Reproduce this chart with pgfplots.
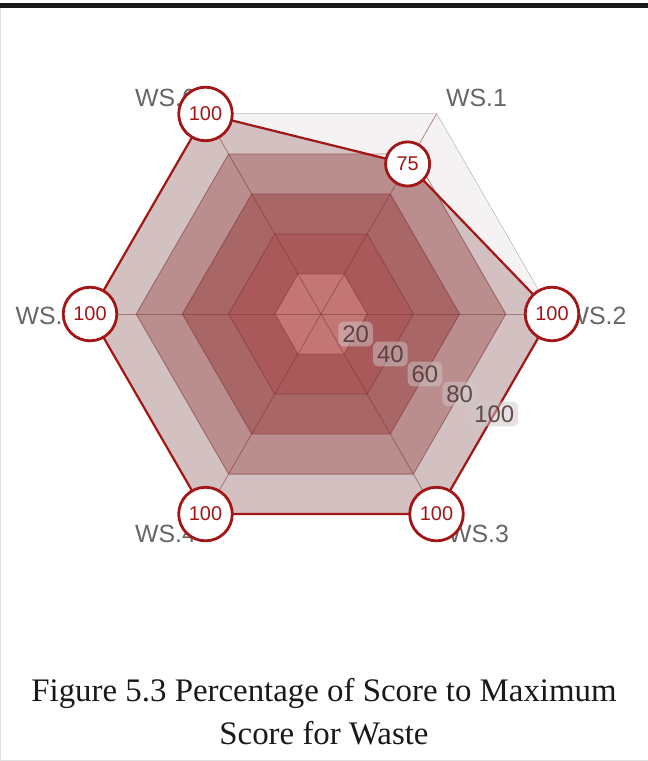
\documentclass[border=0pt]{standalone}
\usepackage{fontspec}
\setmainfont{Liberation Serif}
\newfontfamily\lsans{Liberation Sans}
\usepackage{pgfplots}
\pgfplotsset{compat=1.18}
\usepgfplotslibrary{polar}
\definecolor{outergrey}{HTML}{F4F2F2}
\definecolor{bandA}{HTML}{D3C1C2}
\definecolor{bandB}{HTML}{BA8D8F}
\definecolor{bandC}{HTML}{A86667}
\definecolor{bandD}{HTML}{A95959}
\definecolor{bandE}{HTML}{C47676}
\definecolor{gridline}{HTML}{7E3434}
\definecolor{markred}{HTML}{A31616}
\definecolor{labgrey}{HTML}{666666}
\definecolor{ticktext}{HTML}{4E3434}
\definecolor{tickbox}{HTML}{CFC7C7}
\begin{document}
\begin{tikzpicture}[x=1bp,y=1bp]
\useasboundingbox (0,0) rectangle (648,-761);
\fill[white] (0,0) rectangle (648,-761);
\draw[black!12, line width=1bp] (0.5,-6) -- (0.5,-760.5) -- (648,-760.5);
\draw[black!90, line width=5bp] (0,-5.5) -- (648,-5.5);
\begin{polaraxis}[
  at={(321bp,-314bp)}, anchor=center,
  scale only axis, width=462bp, height=462bp,
  ymin=0, ymax=100, xmin=0, xmax=360,
  hide axis, clip=false,
]
% outer grid hexagon (100)
\addplot[fill=outergrey, draw=black!30, line width=1.2bp, mark=none]
  coordinates {(0,100) (60,100) (120,100) (180,100) (240,100) (300,100) (360,100)};
% data area
\addplot[fill=bandA, draw=none, mark=none]
  coordinates {(0,100) (60,75) (120,100) (180,100) (240,100) (300,100) (360,100)};
% inner bands
\addplot[fill=bandB, draw=none, mark=none]
  coordinates {(0,80) (60,80) (120,80) (180,80) (240,80) (300,80) (360,80)};
\addplot[fill=bandC, draw=none, mark=none]
  coordinates {(0,60) (60,60) (120,60) (180,60) (240,60) (300,60) (360,60)};
\addplot[fill=bandD, draw=none, mark=none]
  coordinates {(0,40) (60,40) (120,40) (180,40) (240,40) (300,40) (360,40)};
\addplot[fill=bandE, draw=none, mark=none]
  coordinates {(0,20) (60,20) (120,20) (180,20) (240,20) (300,20) (360,20)};
% part of the grid outside the data area
\addplot[fill=outergrey, draw=none, mark=none]
  coordinates {(0,100) (60,100) (120,100) (60,75) (0,100)};
% ring outlines
\addplot[draw=gridline, draw opacity=0.55, line width=0.9bp, mark=none]
  coordinates {(0,80) (60,80) (120,80) (180,80) (240,80) (300,80) (360,80)};
\addplot[draw=gridline, draw opacity=0.55, line width=0.9bp, mark=none]
  coordinates {(0,60) (60,60) (120,60) (180,60) (240,60) (300,60) (360,60)};
\addplot[draw=gridline, draw opacity=0.55, line width=0.9bp, mark=none]
  coordinates {(0,40) (60,40) (120,40) (180,40) (240,40) (300,40) (360,40)};
\addplot[draw=gridline, draw opacity=0.55, line width=0.9bp, mark=none]
  coordinates {(0,20) (60,20) (120,20) (180,20) (240,20) (300,20) (360,20)};
% spokes
\addplot[draw=gridline, draw opacity=0.5, line width=0.9bp, mark=none] coordinates {(0,0) (0,100)};
\addplot[draw=gridline, draw opacity=0.5, line width=0.9bp, mark=none] coordinates {(0,0) (60,100)};
\addplot[draw=gridline, draw opacity=0.5, line width=0.9bp, mark=none] coordinates {(0,0) (120,100)};
\addplot[draw=gridline, draw opacity=0.5, line width=0.9bp, mark=none] coordinates {(0,0) (180,100)};
\addplot[draw=gridline, draw opacity=0.5, line width=0.9bp, mark=none] coordinates {(0,0) (240,100)};
\addplot[draw=gridline, draw opacity=0.5, line width=0.9bp, mark=none] coordinates {(0,0) (300,100)};
% data outline
\addplot[draw=markred, line width=2.2bp, mark=none, line join=round]
  coordinates {(0,100) (60,75) (120,100) (180,100) (240,100) (300,100) (360,100)};
% radial tick labels
\addplot[draw=none, mark=none, point meta=explicit symbolic,
  nodes near coords,
  every node near coord/.append style={anchor=center, fill=tickbox, fill opacity=0.5, text opacity=0.85,
    rounded corners=6bp, inner sep=4bp, text=ticktext, font=\lsans\fontsize{24}{24}\selectfont}]
  coordinates {(330,17.32) [20] (330,34.64) [40] (330,51.96) [60] (330,69.28) [80] (330,86.6) [100]};
% category labels
\node[anchor=south west, text=labgrey, font=\lsans\fontsize{25}{25}\selectfont, xshift=6bp, yshift=4bp] at (axis cs:60,100) {WS.1};
\node[anchor=west, text=labgrey, font=\lsans\fontsize{25}{25}\selectfont, xshift=10bp, yshift=-2bp] at (axis cs:0,100) {WS.2};
\node[anchor=north west, text=labgrey, font=\lsans\fontsize{25}{25}\selectfont, xshift=8bp, yshift=-8bp] at (axis cs:300,100) {WS.3};
\node[anchor=north east, text=labgrey, font=\lsans\fontsize{25}{25}\selectfont, xshift=-6bp, yshift=-8bp] at (axis cs:240,100) {WS.4};
\node[anchor=east, text=labgrey, font=\lsans\fontsize{25}{25}\selectfont, xshift=-10bp, yshift=-2bp] at (axis cs:180,100) {WS.5};
\node[anchor=south east, text=labgrey, font=\lsans\fontsize{25}{25}\selectfont, xshift=-6bp, yshift=4bp] at (axis cs:120,100) {WS.6};
% value markers
\addplot[draw=none, mark=none, point meta=explicit symbolic,
  nodes near coords,
  every node near coord/.append style={anchor=center, circle, draw=markred, line width=2.8bp, fill=white,
    inner sep=6.5bp, text=markred, font=\lsans\fontsize{20}{20}\selectfont}]
  coordinates {(60,75) [75] (0,100) [100] (300,100) [100] (240,100) [100] (180,100) [100] (120,100) [100]};
\end{polaraxis}
\node[text=black!90, font=\fontsize{33}{33}\selectfont] at (324,-693) {Figure 5.3 Percentage of Score to Maximum};
\node[text=black!90, font=\fontsize{33}{33}\selectfont] at (324,-733) {Score for Waste};
\end{tikzpicture}
\end{document}
